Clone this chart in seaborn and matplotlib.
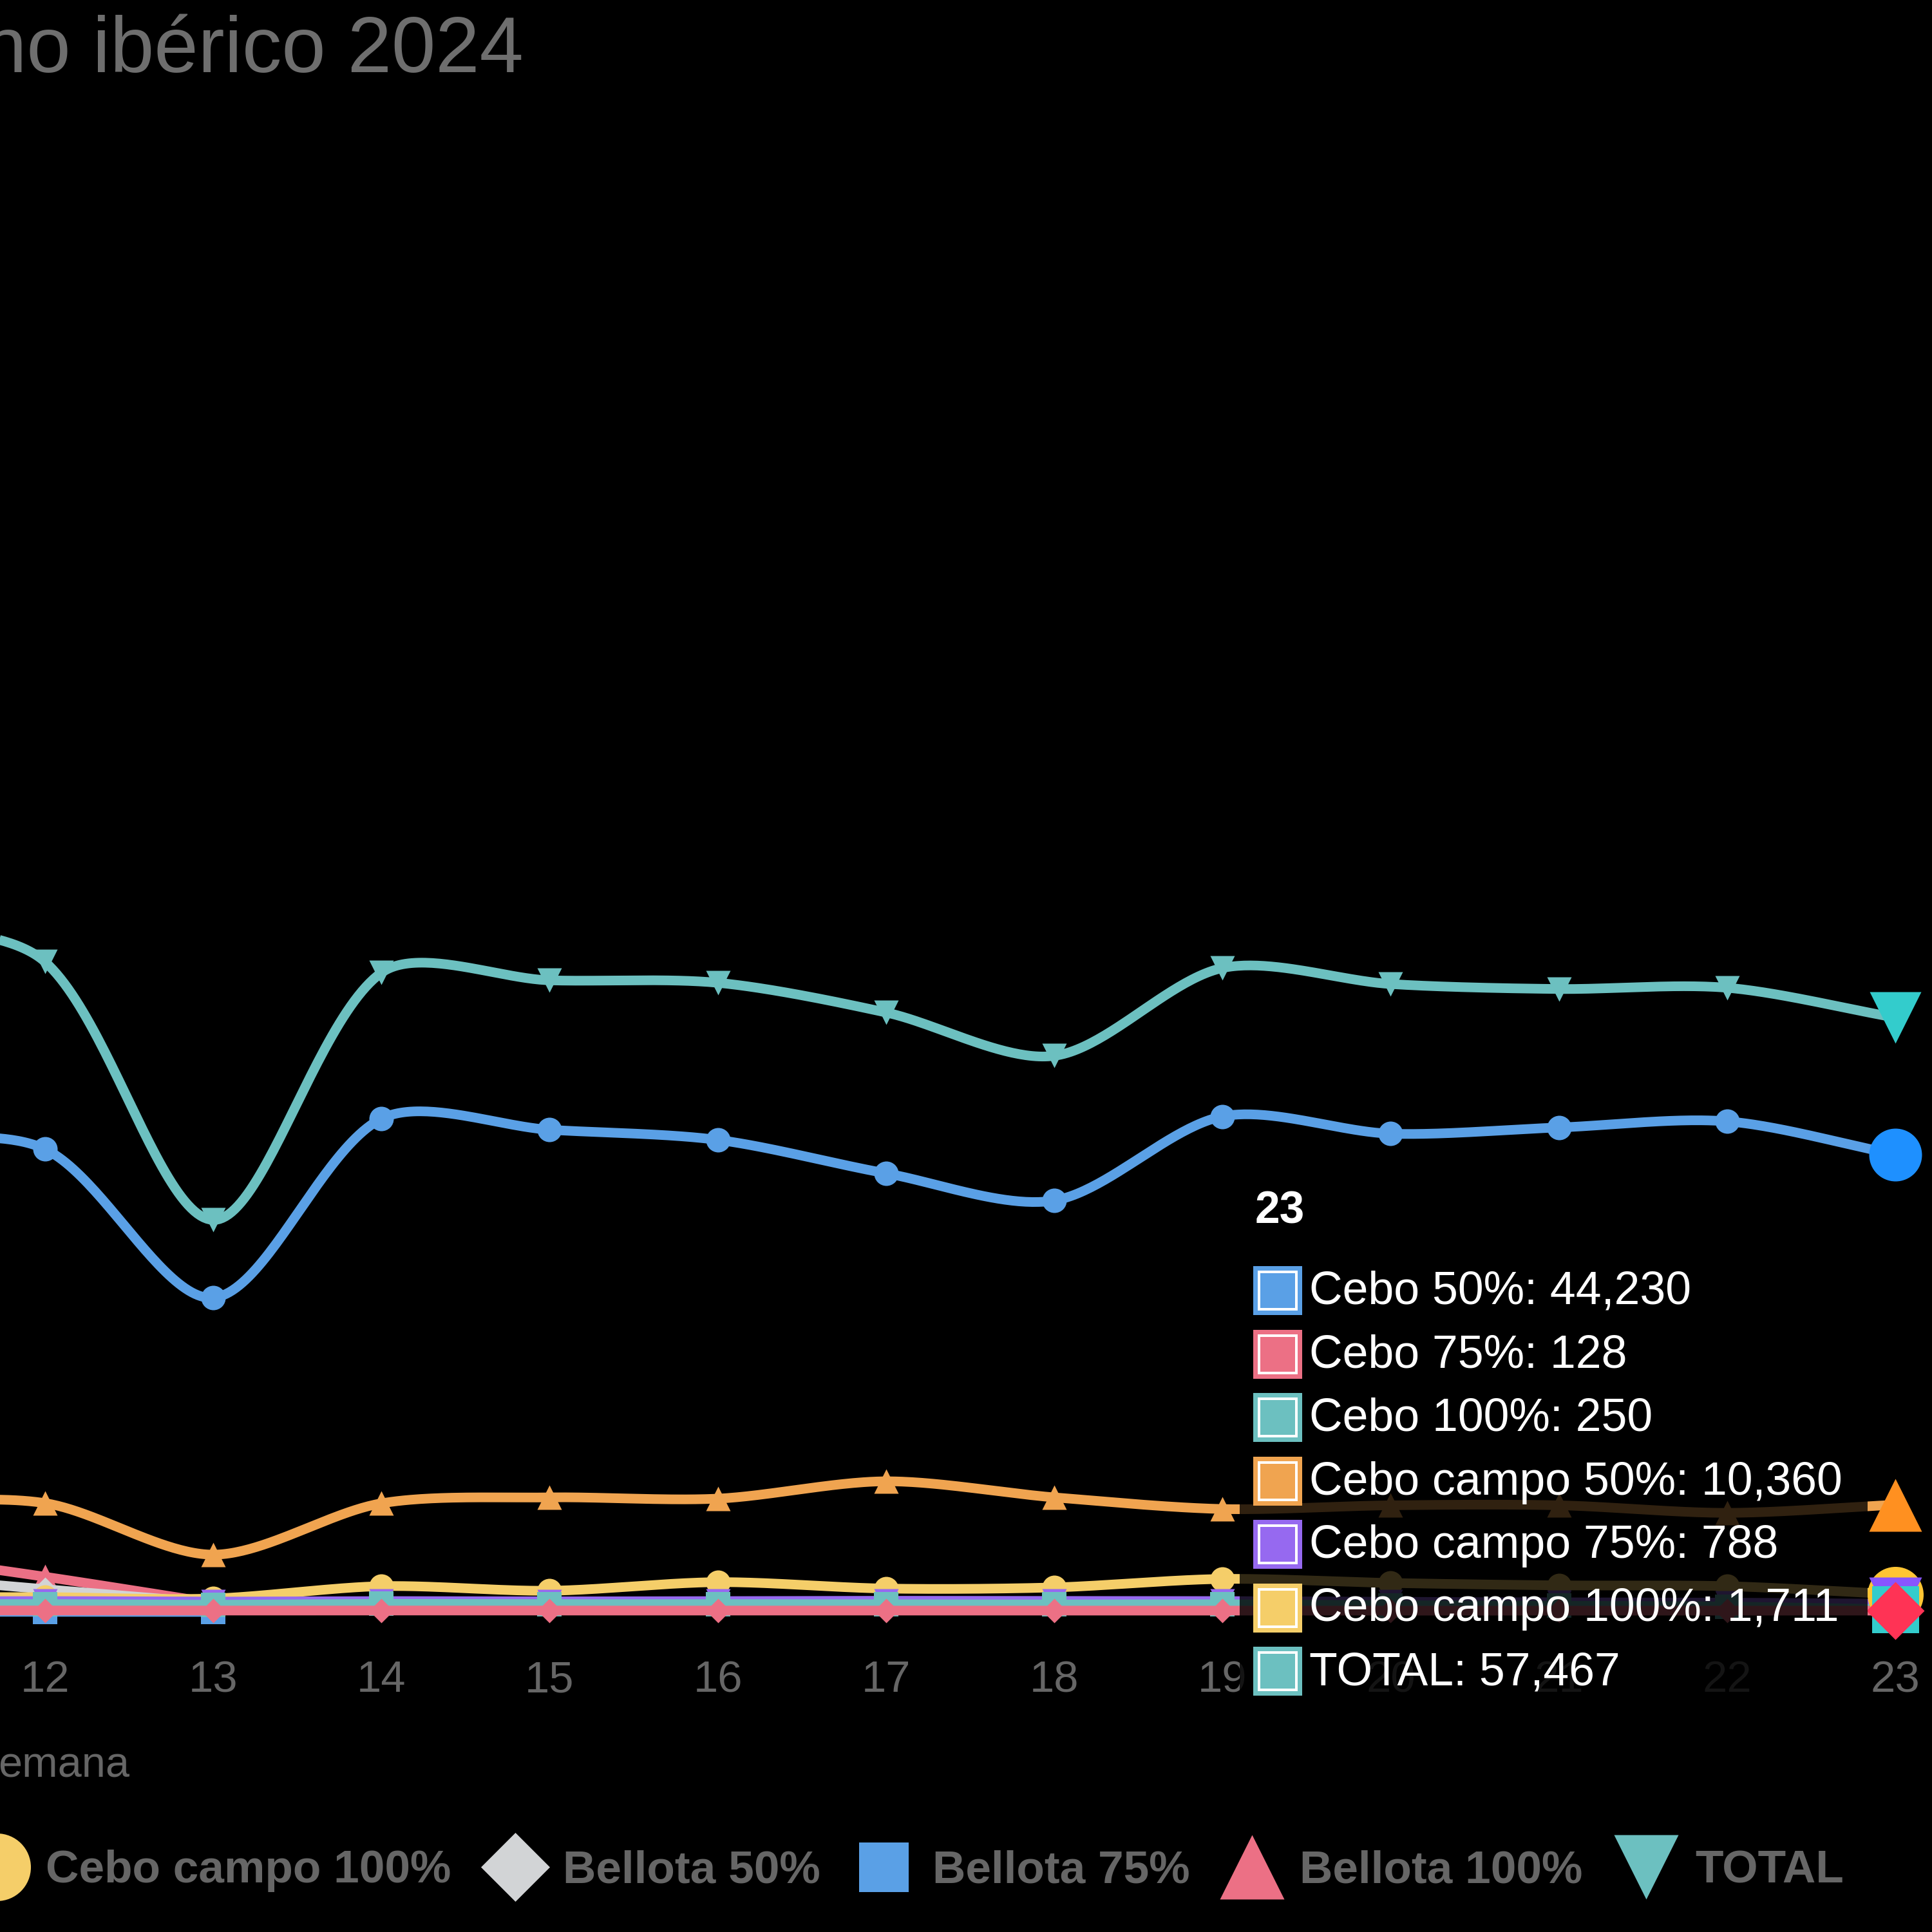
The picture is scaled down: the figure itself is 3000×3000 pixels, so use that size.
import numpy as np
import pandas as pd
import matplotlib
matplotlib.use("Agg")
import matplotlib.pyplot as plt
from matplotlib.patches import FancyBboxPatch, Rectangle
import seaborn as sns

# ---------------- data ----------------
weeks = [11, 12, 13, 14, 15, 16, 17, 18, 19, 20, 21, 22, 23]
nan = np.nan
cebo_50 = [45800, 44750, 30380, 47690, 46620, 45640, 42410, 39780, 47910, 46240, 46840, 47430, 44230]
cebo_75 = [150, 140, 130, 140, 130, 135, 130, 125, 130, 120, 125, 130, 128]
cebo_100 = [750, 760, 700, 780, 750, 760, 740, 720, 740, 650, 600, 520, 250]
cebo_campo_50 = [10600, 10520, 5540, 10500, 11075, 10955, 12630, 11075, 9950, 10310, 10310, 9580, 10360]
cebo_campo_75 = [1000, 1050, 1000, 1050, 1020, 1050, 1080, 1060, 1050, 980, 930, 900, 788]
cebo_campo_100 = [1400, 1430, 1300, 2490, 2050, 2880, 2260, 2370, 3190, 2800, 2570, 2490, 1711]
bellota_50 = [3600, 2200, 870, nan, nan, nan, nan, nan, nan, nan, nan, nan, nan]
bellota_75 = [20, 10, 0, nan, nan, nan, nan, nan, nan, nan, nan, nan, nan]
bellota_100 = [5700, 3400, 870, nan, nan, nan, nan, nan, nan, nan, nan, nan, nan]
total = [67000, 62860, 37900, 61800, 61070, 60830, 57960, 53770, 62260, 60710, 60230, 60350, 57467]

series_names = ["Cebo 50%", "Cebo 75%", "Cebo 100%", "Cebo campo 50%", "Cebo campo 75%",
                "Cebo campo 100%", "Bellota 50%", "Bellota 75%", "Bellota 100%", "TOTAL"]
series_values = [cebo_50, cebo_75, cebo_100, cebo_campo_50, cebo_campo_75,
                 cebo_campo_100, bellota_50, bellota_75, bellota_100, total]

title_text = "no ibérico 2024"
xaxis_title = "emana"
hover_week = 23

# ---------------- styles ----------------
palette = ["#5AA0E6", "#EC7085", "#6CC0C0", "#F0A450", "#9669F0", "#F5CE69", "#D2D4D6"]
hover_palette = ["#1E90FF", "#FF3355", "#33CCCC", "#FF9020", "#8855FF", "#FFC533", "#DDDDDD"]
symbols = ["o", "D", "s", "^", "v"]
colors = [palette[i % 7] for i in range(10)]
hcolors = [hover_palette[i % 7] for i in range(10)]
markers = [symbols[i % 5] for i in range(10)]

W = 3000.0
DPI = 300
ZERO_Y = 2503.0     # pixel row of value 0
SCALE = 0.01606     # pixels per unit
PX_WEEK = 261.2
X_LEFT = 23 - 2943.0 / PX_WEEK
X_RIGHT = X_LEFT + W / PX_WEEK
AX_BOTTOM_PX = 2560.0
TENSION = 0.3


def px2pt(px):
    return px * 72.0 / DPI


def to_px(x, y):
    return (np.asarray(x) - X_LEFT) * PX_WEEK, ZERO_Y - SCALE * np.asarray(y)


def from_px(px, py):
    return np.asarray(px) / PX_WEEK + X_LEFT, (ZERO_Y - np.asarray(py)) / SCALE


def chartjs_spline(xs, ys, n=50):
    """Cubic spline with tension (Chart.js style), computed in pixel space."""
    px, py = to_px(xs, ys)
    P = np.column_stack([px, py])
    m = len(P)
    cprev = P.copy(); cnext = P.copy()
    for i in range(m):
        prev = P[i - 1] if i > 0 else P[i]
        cur = P[i]
        nxt = P[i + 1] if i < m - 1 else P[i]
        d01 = np.hypot(*(cur - prev)); d12 = np.hypot(*(nxt - cur))
        tot = d01 + d12
        s01 = d01 / tot if tot else 0.0
        s12 = d12 / tot if tot else 0.0
        cprev[i] = cur - TENSION * s01 * (nxt - prev)
        cnext[i] = cur + TENSION * s12 * (nxt - prev)
    t = np.linspace(0, 1, n)[1:]
    out = [P[0]]
    for i in range(1, m):
        p0, p1, p2, p3 = P[i - 1], cnext[i - 1], cprev[i], P[i]
        b = ((1 - t) ** 3)[:, None] * p0 + (3 * (1 - t) ** 2 * t)[:, None] * p1 + \
            (3 * (1 - t) * t ** 2)[:, None] * p2 + (t ** 3)[:, None] * p3
        out.extend(b)
    out = np.array(out)
    return from_px(out[:, 0], out[:, 1])


# ---------------- figure ----------------
sns.set_theme(style="dark")
plt.rcParams["font.family"] = ["Liberation Sans", "DejaVu Sans"]
fig = plt.figure(figsize=(W / DPI, W / DPI), dpi=DPI, facecolor="black")
ax = fig.add_axes([0, 1 - AX_BOTTOM_PX / W, 1, AX_BOTTOM_PX / W])
ax.set_facecolor("black")
for sp in ax.spines.values():
    sp.set_visible(False)
ax.grid(False)

lw = px2pt(15)
n_series = len(series_names)
for k, (name, vals) in enumerate(zip(series_names, series_values)):
    z = 2 + (n_series - k) * 0.1      # first dataset drawn on top
    df = pd.DataFrame({"week": weeks, "value": vals}).dropna()
    sx, sy = chartjs_spline(df["week"].values, df["value"].values)
    sns.lineplot(x=sx, y=sy, ax=ax, color=colors[k], linewidth=lw, sort=False,
                 estimator=None, legend=False, zorder=z, solid_capstyle="butt")
    mk = df[df["week"] != hover_week]
    box = px2pt(38)
    size = (box / 1.414) ** 2 if markers[k] == "D" else box ** 2
    sns.scatterplot(x=mk["week"], y=mk["value"], ax=ax, marker=markers[k], s=size,
                    color=colors[k], linewidth=0, legend=False, zorder=z + 0.05,
                    clip_on=False)

# hover markers at the last week
hover_sizes = {0: 82, 1: 90, 2: 73, 3: 82, 4: 82, 5: 87, 9: 80}
for k in range(n_series):
    v = series_values[k][weeks.index(hover_week)]
    if np.isnan(v):
        continue
    box = px2pt(hover_sizes.get(k, 80))
    size = (box / 1.414) ** 2 if markers[k] == "D" else box ** 2
    sns.scatterplot(x=[hover_week], y=[v], ax=ax, marker=markers[k], s=size,
                    color=hcolors[k], linewidth=0, legend=False,
                    zorder=5 + (n_series - k) * 0.1, clip_on=False)

ax.set_xlim(X_LEFT, X_RIGHT)
ax.set_ylim(-(AX_BOTTOM_PX - ZERO_Y) / SCALE, ZERO_Y / SCALE)
ax.set_yticks([])
ax.set_xticks(weeks[1:])
ax.set_xticklabels([str(w) for w in weeks[1:]])
ax.tick_params(axis="x", length=0, pad=px2pt(17), labelsize=16.5, labelcolor="#666666")
ax.set_xlabel("")
ax.set_ylabel("")

# ---------------- overlay (pixel coordinates) ----------------
ov = fig.add_axes([0, 0, 1, 1], zorder=5)
ov.set_xlim(0, W)
ov.set_ylim(W, 0)
ov.axis("off")
ov.patch.set_alpha(0)

# title and axis title
ov.text(813, 112, title_text, ha="right", va="baseline", fontsize=29.5, color="#6E6E6E")
ov.text(201, 2759, xaxis_title, ha="right", va="baseline", fontsize=16, color="#666666")

# tooltip
tt = FancyBboxPatch((1925, 1820), 975, 830, boxstyle="round,pad=0,rounding_size=14",
                    facecolor=(0, 0, 0, 0.8), edgecolor="none")
ov.add_patch(tt)
ov.text(1949, 1900, str(hover_week), ha="left", va="baseline", fontsize=16.7,
        fontweight="bold", color="white")
tip_series = [i for i in range(n_series) if not np.isnan(series_values[i][weeks.index(hover_week)])]
for r, k in enumerate(tip_series):
    cy = 2004 + 98.5 * r
    ov.add_patch(Rectangle((1946, cy - 38), 76, 76, facecolor=colors[k], edgecolor="none"))
    ov.add_patch(Rectangle((1955, cy - 29), 58, 58, facecolor="none", edgecolor="white",
                           linewidth=px2pt(4)))
    v = series_values[k][weeks.index(hover_week)]
    ov.text(2033, cy + 21, f"{series_names[k]}: {int(round(v)):,}", ha="left", va="baseline",
            fontsize=17.2, color="white")

# legend (visible part)
leg_items = [(5, -5, 105, 71), (6, 800, 107, 874), (7, 1372, 77, 1448),
             (8, 1944, 100, 2018), (9, 2556, 100, 2632)]
for k, mx, msz, tx in leg_items:
    box = px2pt(msz)
    size = (box / 1.414) ** 2 if markers[k] == "D" else box ** 2
    ov.scatter([mx], [2899], marker=markers[k], s=size, color=colors[k], linewidths=0,
               clip_on=False)
    ov.text(tx, 2923, series_names[k], ha="left", va="baseline", fontsize=17.1,
            fontweight="bold", color="#666666")

fig.savefig("out.png", dpi=DPI, facecolor="black")
